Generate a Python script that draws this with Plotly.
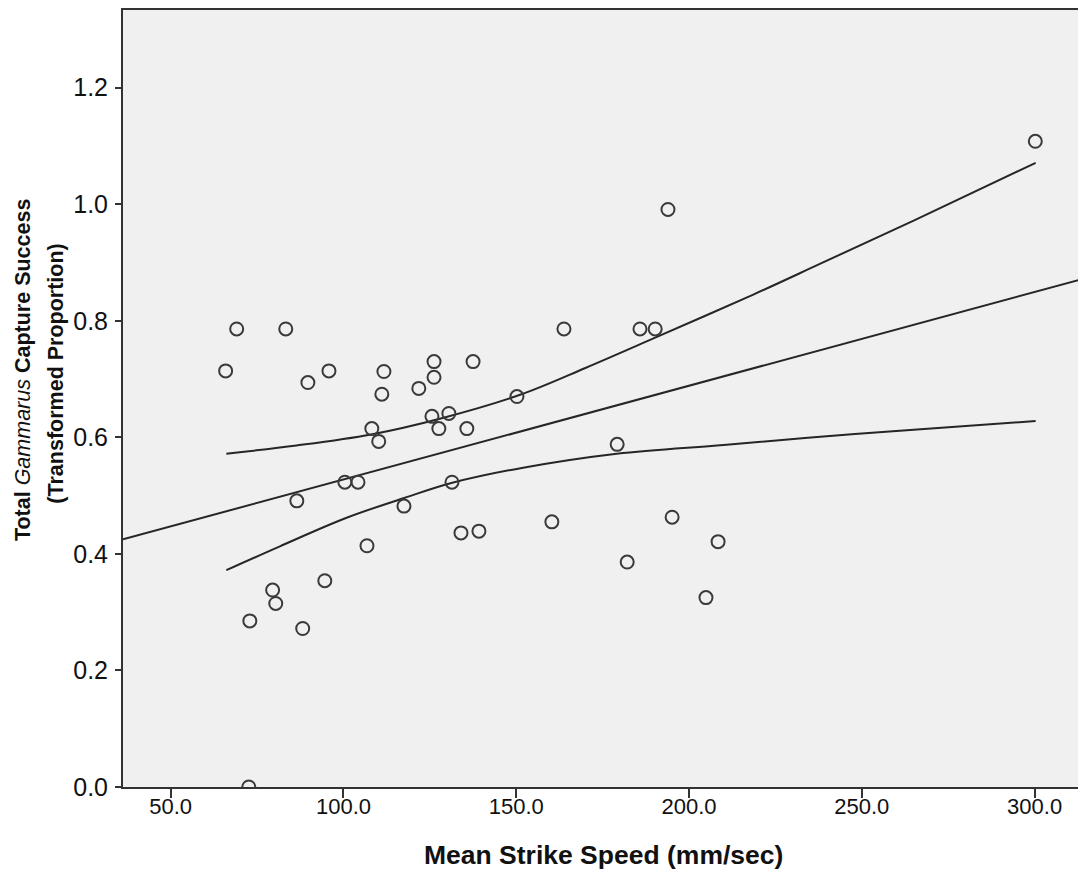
import plotly.graph_objects as go

# Scatter data (Mean strike speed mm/sec, transformed capture success)
speed = [65.9, 69.1, 83.3, 89.7, 95.8, 111.7, 111.1, 108.2, 110.2, 121.8,
         126.2, 126.2, 125.6, 130.5, 127.6, 135.7, 137.5, 150.2, 163.8, 185.8,
         190.2, 193.9, 300.2, 179.2, 100.4, 104.2, 131.4, 86.5, 117.5, 106.8,
         134.0, 139.2, 160.3, 195.1, 208.4, 182.1, 204.9, 94.6, 79.5, 80.4,
         72.9, 88.2, 72.6]
success = [0.714, 0.786, 0.786, 0.694, 0.714, 0.713, 0.674, 0.615, 0.593, 0.684,
           0.730, 0.703, 0.636, 0.641, 0.615, 0.615, 0.730, 0.670, 0.786, 0.786,
           0.786, 0.991, 1.108, 0.588, 0.523, 0.523, 0.523, 0.491, 0.482, 0.414,
           0.436, 0.439, 0.455, 0.463, 0.421, 0.386, 0.325, 0.354, 0.338, 0.315,
           0.285, 0.272, 0.0]

# Fit line
fit_x = [36.2, 314.0]
fit_y = [0.425, 0.872]

# Upper confidence band
upper_x = [66.1, 86.4, 108.0, 127.9, 151.1, 170.0, 190.2, 218.6, 238.0, 265.0, 300.3]
upper_y = [0.572, 0.586, 0.605, 0.632, 0.673, 0.719, 0.771, 0.845, 0.898, 0.972, 1.071]

# Lower confidence band
lower_x = [66.1, 81.6, 100.9, 117.6, 131.5, 152.0, 179.1, 210.0, 238.0, 265.0, 300.3]
lower_y = [0.372, 0.413, 0.462, 0.496, 0.522, 0.548, 0.572, 0.587, 0.601, 0.613, 0.628]

x_ticks = [50, 100, 150, 200, 250, 300]
y_ticks = [0.0, 0.2, 0.4, 0.6, 0.8, 1.0, 1.2]

line_col = "#262626"
FONT = "Liberation Sans, Arial, sans-serif"

fig = go.Figure()
for xs, ys in [(fit_x, fit_y), (upper_x, upper_y), (lower_x, lower_y)]:
    fig.add_trace(go.Scatter(x=xs, y=ys, mode="lines",
                             line=dict(color=line_col, width=2, shape="spline", smoothing=1.0),
                             showlegend=False, hoverinfo="skip"))
fig.add_trace(go.Scatter(x=speed, y=success, mode="markers",
                         marker=dict(symbol="circle-open", size=13, color="#3a3a3a",
                                     line=dict(width=2, color="#3a3a3a")),
                         showlegend=False))

fig.update_layout(
    width=1078, height=866,
    margin=dict(l=115, r=3, t=0, b=87),
    paper_bgcolor="white",
    plot_bgcolor="#f0f0f0",
    font=dict(family=FONT, color="#111"),
    xaxis=dict(range=[36.2, 314.0], tickvals=x_ticks, ticktext=[f"{v:.1f}" for v in x_ticks],
               showgrid=False, zeroline=False, showline=True, linecolor="#333", linewidth=2, mirror=True,
               ticks="outside", ticklen=9, tickwidth=2, tickcolor="#333",
               tickfont=dict(size=22, family=FONT, color="#111"),
               ticklabelstandoff=-10),
    yaxis=dict(range=[0, 1.3333], tickvals=y_ticks, ticktext=[f"{v:.1f}" for v in y_ticks],
               showgrid=False, zeroline=False, showline=True, linecolor="#333", linewidth=2, mirror=True,
               ticks="outside", ticklen=6, tickwidth=2, tickcolor="#333",
               tickfont=dict(size=25, family=FONT, color="#111"),
               ticklabelstandoff=2),
)

fig.add_annotation(text="<b>Mean Strike Speed (mm/sec)</b>", xref="paper", yref="paper",
                   x=0.5, y=-0.0872, xanchor="center", yanchor="middle", showarrow=False,
                   font=dict(size=26.5, family=FONT, color="#111"))
fig.add_annotation(text="<b>Total </b><i>Gammarus</i><b> Capture Success</b>",
                   xref="paper", yref="paper", x=-0.1042, y=0.5378, xanchor="center", yanchor="middle",
                   textangle=-90, showarrow=False, font=dict(size=21.5, family=FONT, color="#111"))
fig.add_annotation(text="<b>(Transformed Proportion)</b>",
                   xref="paper", yref="paper", x=-0.0698, y=0.532, xanchor="center", yanchor="middle",
                   textangle=-90, showarrow=False, font=dict(size=21.5, family=FONT, color="#111"))

fig.write_html("out.html")
